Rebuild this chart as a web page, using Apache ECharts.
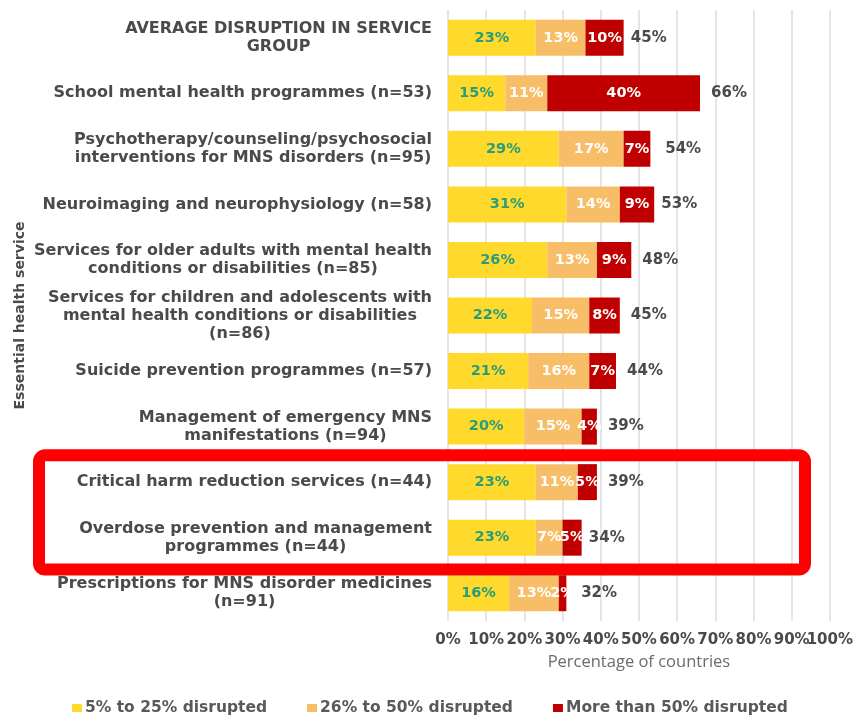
<!DOCTYPE html>
<html>
<head>
<meta charset="utf-8">
<script src="https://cdn.jsdelivr.net/npm/echarts@6/dist/echarts.min.js"></script>
<style>
html,body{margin:0;padding:0;background:#fff;}
#chart{width:856px;height:715px;}
</style>
</head>
<body>
<div id="chart"></div>
<script>
const categories = [
  "AVERAGE DISRUPTION IN SERVICE\nGROUP",
  "School mental health programmes (n=53)",
  "Psychotherapy/counseling/psychosocial\ninterventions for MNS disorders (n=95)",
  "Neuroimaging and neurophysiology (n=58)",
  "Services for older adults with mental health\nconditions or disabilities (n=85)",
  "Services for children and adolescents with\nmental health conditions or disabilities\n(n=86)",
  "Suicide prevention programmes (n=57)",
  "Management of emergency MNS\nmanifestations (n=94)",
  "Critical harm reduction services (n=44)",
  "Overdose prevention and management\nprogrammes (n=44)",
  "Prescriptions for MNS disorder medicines\n(n=91)"
];
const seriesNames = ["5% to 25% disrupted", "26% to 50% disrupted", "More than 50% disrupted"];
const low  = [23, 15, 29, 31, 26, 22, 21, 20, 23, 23, 16];
const mid  = [13, 11, 17, 14, 13, 15, 16, 15, 11, 7, 13];
const high = [10, 40, 7, 9, 9, 8, 7, 4, 5, 5, 2];
const totals = [45, 66, 54, 53, 48, 45, 44, 39, 39, 34, 32];
const xMin = 0, xMax = 100, xStep = 10;
const highlighted = [8, 9];

const FONT = '"DejaVu Sans", "Liberation Sans", Arial, sans-serif';
const colors = ['#FFD92C', '#F7BE67', '#C00000'];

const rich = {};
categories.forEach((c, i) => {
  rich['r' + i] = {
    align: 'center',
    fontFamily: FONT,
    fontWeight: 'bold',
    fontSize: 16,
    lineHeight: 18,
    color: '#4a4a4a'
  };
});

const tickStyle = {fontFamily: FONT, fontWeight: 'bold', fontSize: 15, color: '#4a4a4a'};

const chart = echarts.init(document.getElementById('chart'), null, {renderer: 'canvas'});

function segLabel(color) {
  return {
    show: true,
    position: 'inside',
    formatter: '{c}%',
    color: color,
    fontFamily: FONT,
    fontWeight: 'bold',
    fontSize: 14.5
  };
}

const option = {
  animation: false,
  backgroundColor: '#ffffff',
  grid: {left: 448, right: 24, top: 10, bottom: 94, containLabel: false},
  legend: {
    data: seriesNames,
    left: 67,
    top: 695,
    icon: 'rect',
    itemWidth: 10,
    itemHeight: 8,
    itemGap: 40,
    textStyle: {fontFamily: FONT, fontWeight: 'bold', fontSize: 15.5, color: '#595959', padding: [0, 0, 0, -2]}
  },
  xAxis: [
    {
      type: 'value',
      min: xMin,
      max: xMax,
      interval: xStep,
      name: 'Percentage of countries',
      nameLocation: 'middle',
      nameGap: 33,
      nameTextStyle: {fontFamily: '"Open Sans", ' + FONT, fontSize: 16.5, color: '#6b6b6b'},
      axisLine: {show: false},
      axisTick: {show: false},
      axisLabel: Object.assign({formatter: '{value}%', margin: 12, showMaxLabel: false, showMinLabel: true}, tickStyle),
      splitLine: {show: true, lineStyle: {color: '#dcdcdc', width: 1.5}}
    },
    {
      type: 'value',
      position: 'bottom',
      min: xMin,
      max: xMax,
      interval: xStep,
      axisLine: {show: false},
      axisTick: {show: false},
      splitLine: {show: false},
      axisLabel: Object.assign({
        formatter: function (v) { return v === xMax ? v + '%' : ''; },
        margin: 12, showMaxLabel: true, showMinLabel: false
      }, tickStyle)
    }
  ],
  yAxis: {
    type: 'category',
    data: categories,
    inverse: true,
    name: 'Essential health service',
    nameLocation: 'middle',
    nameGap: 421,
    nameRotate: 90,
    nameTextStyle: {fontFamily: FONT, fontWeight: 'bold', fontSize: 14, color: '#4a4a4a'},
    axisLine: {show: false},
    axisTick: {show: false},
    axisLabel: {
      margin: 16,
      align: 'right',
      formatter: function (v, i) {
        return v.split('\n').map(l => '{r' + i + '|' + l + '}').join('\n');
      },
      rich: rich
    }
  },
  series: [
    {name: seriesNames[0], type: 'bar', stack: 'all', data: low, barWidth: 36, itemStyle: {color: colors[0]}, label: segLabel('#2a9d78')},
    {name: seriesNames[1], type: 'bar', stack: 'all', data: mid, barWidth: 36, itemStyle: {color: colors[1]}, label: segLabel('#ffffff')},
    {name: seriesNames[2], type: 'bar', stack: 'all', data: high, barWidth: 36, itemStyle: {color: colors[2]}, label: segLabel('#ffffff')},
    {
      name: 'Total', type: 'bar', data: totals, barWidth: 36, barGap: '-100%', silent: true, z: 1,
      itemStyle: {color: 'rgba(0,0,0,0)'},
      label: {show: true, position: 'right', distance: 11, formatter: '{c}%', fontFamily: FONT, fontWeight: 'bold', fontSize: 15, color: '#4a4a4a'}
    }
  ]
};
chart.setOption(option);

// annotation rectangle around highlighted categories
const yTop = chart.convertToPixel({yAxisIndex: 0}, highlighted[0]);
const yBot = chart.convertToPixel({yAxisIndex: 0}, highlighted[highlighted.length - 1]);
const band = yBot - yTop;
chart.setOption({
  graphic: [{
    type: 'rect',
    z: 100,
    shape: {x: 39, y: yTop - band / 2 + 1, width: 766, height: band * 2 + 3, r: 6},
    style: {fill: 'none', stroke: '#FF0000', lineWidth: 12}
  }]
});
</script>
</body>
</html>
